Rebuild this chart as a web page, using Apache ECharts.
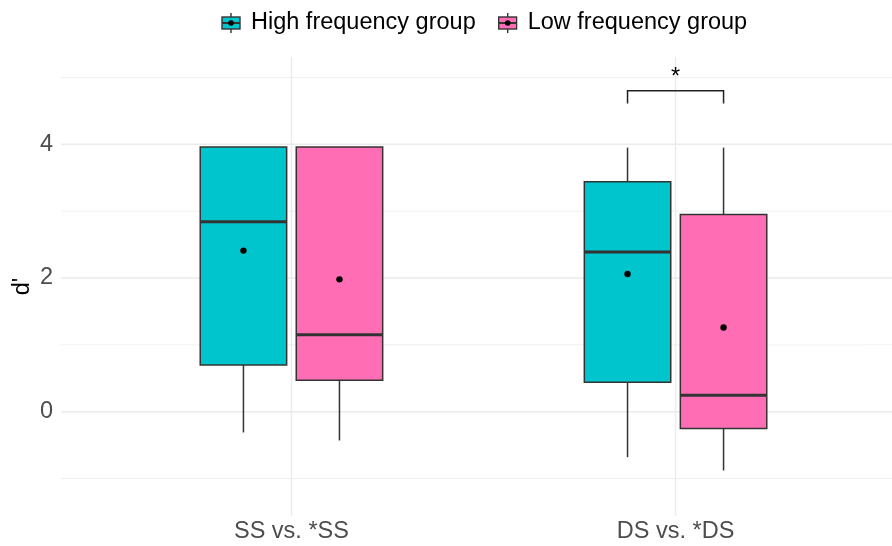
<!DOCTYPE html>
<html><head><meta charset="utf-8">
<script src="https://cdn.jsdelivr.net/npm/echarts@6/dist/echarts.min.js"></script>
<style>html,body{margin:0;padding:0;background:#fff}#c{width:892px;height:546px}</style>
</head><body><div id="c"></div>
<script>
const categories = ['SS vs. *SS', 'DS vs. *DS'];
const groups = ['High frequency group', 'Low frequency group'];
const colors = ['#00C5CD', '#FF6EB4'];
// [min, q1, median, q3, max]
const highBox = [[-0.31, 0.70, 2.84, 3.96, 3.96], [-0.68, 0.44, 2.39, 3.44, 3.95]];
const lowBox = [[-0.43, 0.47, 1.15, 3.96, 3.96], [-0.88, -0.25, 0.245, 2.95, 3.95]];
const highMean = [2.41, 2.06];
const lowMean = [1.98, 1.26];
const majorTicks = [0, 2, 4];
const minorTicks = [-1, 1, 3, 5];
const bracket = [[1.875, 2.125, 4.80, 4.61]];
const bracketLabel = '*';

const FONT = 'Liberation Sans, Arial, sans-serif';
const FS = 23.5;
const chart = echarts.init(document.getElementById('c'), null, {renderer: 'canvas'});

function iconFor(color) {
  const svg = '<svg xmlns="http://www.w3.org/2000/svg" width="20" height="20" viewBox="0 0 20 20">' +
    '<line x1="10" y1="0" x2="10" y2="20" stroke="#333" stroke-width="1.4"/>' +
    '<rect x="1" y="4" width="18" height="12" fill="' + color + '" stroke="#333" stroke-width="1.4"/>' +
    '<line x1="1" y1="10" x2="19" y2="10" stroke="#333" stroke-width="2"/>' +
    '<circle cx="10" cy="10" r="2.8" fill="#000"/></svg>';
  return 'image://data:image/svg+xml;utf8,' + encodeURIComponent(svg);
}

function boxRender(offset, color) {
  return function (params, api) {
    const x = api.value(0) + offset;
    const v = [1, 2, 3, 4, 5].map(i => api.value(i));
    const mean = api.value(6);
    const halfW = 0.1125;
    const pL = api.coord([x - halfW, 0])[0];
    const pR = api.coord([x + halfW, 0])[0];
    const pC = api.coord([x, 0])[0];
    const y = val => api.coord([x, val])[1];
    const ls = {stroke: '#333', lineWidth: 1.5};
    return {type: 'group', children: [
      {type: 'line', shape: {x1: pC, y1: y(v[3]), x2: pC, y2: y(v[4])}, style: ls},
      {type: 'line', shape: {x1: pC, y1: y(v[0]), x2: pC, y2: y(v[1])}, style: ls},
      {type: 'rect', shape: {x: pL, y: y(v[3]), width: pR - pL, height: y(v[1]) - y(v[3])}, style: {fill: color, stroke: '#333', lineWidth: 1.5}},
      {type: 'line', shape: {x1: pL, y1: y(v[2]), x2: pR, y2: y(v[2])}, style: {stroke: '#333', lineWidth: 3}},
      {type: 'circle', shape: {cx: pC, cy: y(mean), r: 3.2}, style: {fill: '#000'}}
    ]};
  };
}

const hData = categories.map((c, i) => [i + 1].concat(highBox[i], [highMean[i]]));
const lData = categories.map((c, i) => [i + 1].concat(lowBox[i], [lowMean[i]]));

const gridH = majorTicks.map(t => [t, 1]).concat(minorTicks.map(t => [t, 0]));
const gridV = categories.map((c, i) => [i + 1]);

chart.setOption({
  animation: false,
  backgroundColor: '#fff',
  textStyle: {fontFamily: FONT},
  legend: {
    left: 216, top: 6,
    itemWidth: 20, itemHeight: 20, itemGap: 22,
    textStyle: {fontSize: FS, color: '#000', fontFamily: FONT, padding: [0, 0, 0, 5]},
    data: groups.map((g, i) => ({name: g, icon: iconFor(colors[i])}))
  },
  grid: {left: 61, right: -14, top: 57, bottom: 30, containLabel: false, outerBoundsMode: 'none'},
  xAxis: {
    type: 'value', min: 0.4, max: 2.6,
    axisLine: {show: false}, axisTick: {show: false}, splitLine: {show: false},
    axisLabel: {customValues: [1, 2], formatter: v => categories[Math.round(v) - 1], fontSize: FS, color: '#4D4D4D', margin: 4, fontFamily: FONT}
  },
  yAxis: {
    type: 'value', min: -1.56, max: 5.306,
    name: "d'", nameLocation: 'middle', nameGap: 26, nameRotate: 90, nameMoveOverlap: false,
    nameTextStyle: {fontSize: FS, color: '#000', fontFamily: FONT},
    axisLine: {show: false}, axisTick: {show: false}, splitLine: {show: false},
    axisLabel: {customValues: majorTicks, fontSize: FS, color: '#4D4D4D', margin: 8, fontFamily: FONT}
  },
  series: [
    {
      type: 'custom', name: 'hgrid', silent: true, z: 0, clip: false,
      data: gridH,
      renderItem: function (params, api) {
        const cs = params.coordSys;
        const yy = api.coord([1, api.value(0)])[1];
        const major = api.value(1) === 1;
        return {type: 'line', shape: {x1: cs.x, y1: yy, x2: cs.x + cs.width, y2: yy},
          style: {stroke: '#EBEBEB', lineWidth: major ? 1.4 : 0.8}};
      }
    },
    {
      type: 'custom', name: 'vgrid', silent: true, z: 0, clip: false,
      data: gridV,
      renderItem: function (params, api) {
        const cs = params.coordSys;
        const xx = api.coord([api.value(0), 0])[0];
        return {type: 'line', shape: {x1: xx, y1: cs.y, x2: xx, y2: cs.y + cs.height},
          style: {stroke: '#EBEBEB', lineWidth: 1.4}};
      }
    },
    {type: 'custom', name: groups[0], z: 2, data: hData, renderItem: boxRender(-0.125, colors[0]), itemStyle: {color: colors[0]}},
    {type: 'custom', name: groups[1], z: 2, data: lData, renderItem: boxRender(0.125, colors[1]), itemStyle: {color: colors[1]}},
    {
      type: 'custom', name: 'bracket', silent: true, z: 3, clip: false,
      data: bracket,
      renderItem: function (params, api) {
        const a = api.coord([api.value(0), api.value(2)]);
        const b = api.coord([api.value(1), api.value(2)]);
        const footY = api.coord([api.value(0), api.value(3)])[1];
        const mid = api.coord([(api.value(0) + api.value(1)) / 2, api.value(2)]);
        return {type: 'group', children: [
          {type: 'polyline', shape: {points: [[a[0], footY], a, b, [b[0], footY]]}, style: {stroke: '#222', lineWidth: 1.5, fill: null}},
          {type: 'text', x: mid[0], y: mid[1] - 1, style: {text: bracketLabel, fontSize: FS, fontFamily: FONT, fill: '#000', align: 'center', verticalAlign: 'bottom'}}
        ]};
      }
    }
  ]
});
</script></body></html>
